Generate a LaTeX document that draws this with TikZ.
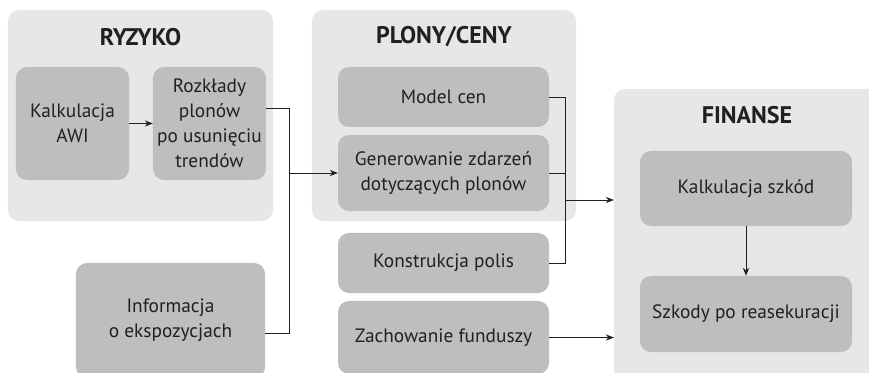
\documentclass[tikz,border=0pt]{standalone}
\usepackage{fontspec}
\setmainfont{PT Sans}
\usetikzlibrary{positioning,arrows.meta}

\definecolor{grouplight}{HTML}{E6E7E8}
\definecolor{boxgray}{HTML}{BCBEC0}
\definecolor{inkdark}{HTML}{231F20}

\tikzset{
    group/.style={fill=grouplight,rounded corners=0.33cm,inner sep=0pt},
    grouptitle/.style={font=\fontsize{20.5}{24}\selectfont\bfseries,text=inkdark},
    proc/.style={fill=boxgray,rounded corners=0.33cm,inner sep=0pt,align=center,
        text=inkdark,font=\fontsize{16.5}{21.3}\selectfont},
    link/.style={draw=inkdark,line width=0.7pt},
    >={Stealth[length=2.4mm,width=1.9mm]}
}

\begin{document}
\begin{tikzpicture}[x=0.03cm,y=-0.03cm]
                \useasboundingbox (0,0) rectangle (869,373);
                % groups
                \node[group,minimum width=7.95cm,minimum height=6.33cm] (ryzyko) at (140.5,115.5) {};
                \node[group,minimum width=7.92cm,minimum height=6.33cm] (plony) at (444,115.5) {};
                \node[group,minimum width=7.98cm,minimum height=8.88cm] (fin) at (747,237) {};
                \node[grouptitle] (tryz) at (140.5,37) {RYZYKO};
                \node[grouptitle] (tplo) at (444,37) {PLONY/CENY};
                \node[grouptitle] (tfin) at (747,115) {FINANSE};
                % RYZYKO
                \node[proc,minimum width=3.39cm,minimum height=3.39cm] (awi) at (72.5,123.5) {Kalkulacja\\AWI};
                \node[proc,minimum width=3.39cm,minimum height=3.39cm] (rozk) at (209.5,123.5) {Rozkłady\\plonów\\po usunięciu\\trendów};
                \node[proc,minimum width=5.67cm,minimum height=3.45cm] (info) at (170.5,320.5) {Informacja\\o ekspozycjach};
                % PLONY/CENY
                \node[proc,minimum width=6.33cm,minimum height=1.8cm] (model) at (443.5,97) {Model cen};
                \node[proc,minimum width=6.33cm,minimum height=2.28cm] (gen) at (443.5,173) {Generowanie zdarzeń\\dotyczących plonów};
                \node[proc,minimum width=6.33cm,minimum height=1.8cm] (kons) at (443.5,263) {Konstrukcja polis};
                \node[proc,minimum width=6.33cm,minimum height=2.19cm] (fund) at (443.5,337.5) {Zachowanie funduszy};
                % FINANSE
                \node[proc,minimum width=6.36cm,minimum height=2.25cm] (calc) at (746,188.5) {Kalkulacja szkód};
                \node[proc,minimum width=6.36cm,minimum height=2.28cm] (reas) at (746,314) {Szkody po reasekuracji};
                % connectors
                \coordinate (jl) at (289,173);
                \coordinate (jr) at (565,200);
                \draw[link,->] (awi) -- (rozk);
                \draw[link] ([yshift=0.46cm]rozk.east) -| (jl);
                \draw[link] ([yshift=-0.4cm]info.east) -| (jl);
                \draw[link,->] (jl) -- (gen);
                \draw[link] (model) -| (jr);
                \draw[link] (kons) -| (jr);
                \draw[link] (gen) -- (gen -| jr);
                \draw[link,->] (jr) -- (fin.west |- jr);
                \draw[link,->] (fund) -- (fund -| fin.west);
                \draw[link,->] (calc) -- (reas);
            \end{tikzpicture}
\end{document}
